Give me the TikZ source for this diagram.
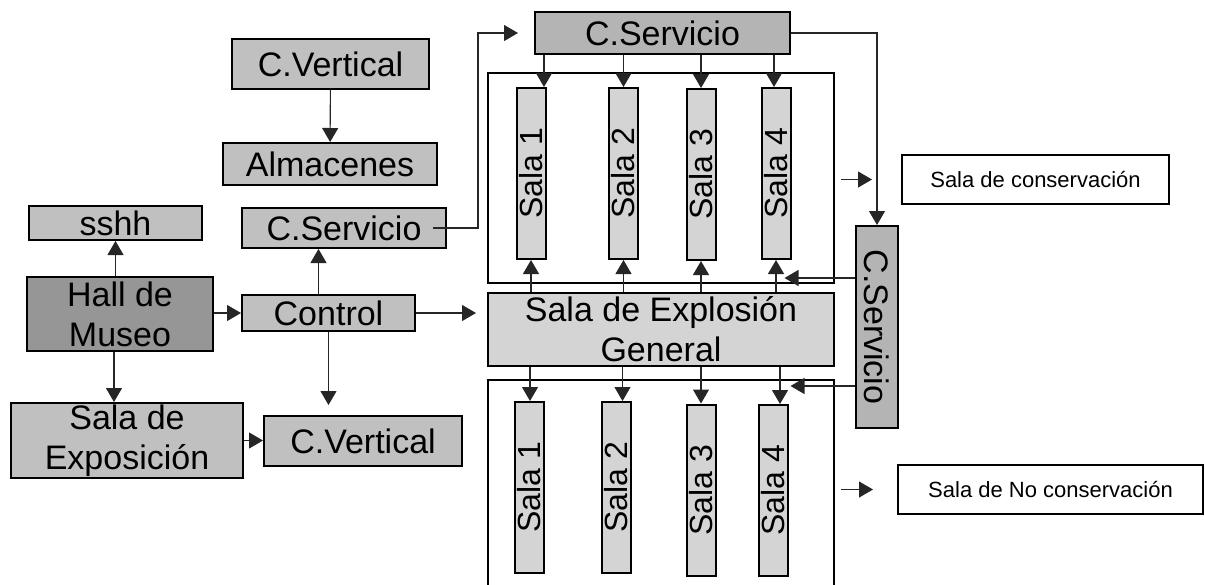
\documentclass[tikz,border=0pt]{standalone}
\usepackage{fontspec}
\setmainfont{Liberation Sans}
\usetikzlibrary{arrows.meta}
\definecolor{halldk}{RGB}{150,150,150}
\definecolor{boxgr}{RGB}{192,192,192}
\definecolor{servgr}{RGB}{180,180,180}
\definecolor{salalt}{RGB}{212,212,212}
\newcommand{\bigtxt}{\fontsize{34}{40}\selectfont}
\newcommand{\salatxt}{\fontsize{32}{36}\selectfont}
\newcommand{\smalltxt}{\fontsize{22}{26}\selectfont}

\begin{document}
\begin{tikzpicture}[
  x=1pt, y=-1pt,
  box/.style={draw, line width=2pt, inner sep=0pt, align=center, font=\bigtxt, fill=boxgr},
  sala/.style={draw, line width=2pt, inner sep=0pt, fill=salalt, font=\salatxt,
    minimum width=29pt, minimum height=171pt},
  cont/.style={draw, line width=2pt, inner sep=0pt, minimum width=346pt},
  note/.style={draw, line width=2pt, fill=white, inner sep=0pt, font=\smalltxt},
  arr/.style={-{Triangle[length=14pt,width=16pt]}, line width=1.1pt, draw=black!85},
]
\clip (0,0) rectangle (1205,584);

% left side
\node[box, minimum width=197pt, minimum height=50pt] (vtop) at (330.5,64) {C.Vertical};
\node[box, minimum width=214pt, minimum height=42pt] (alm) at (330,164) {Almacenes};
\node[box, minimum width=204pt, minimum height=40pt] (serv1) at (344,228) {C.Servicio};
\node[box, minimum width=173pt, minimum height=34pt] (sshh) at (115.5,223) {sshh};
\node[box, fill=halldk, minimum width=186pt, minimum height=74pt] (hall) at (120,314)
  {Hall de\\Museo};
\node[box, minimum width=173pt, minimum height=36pt] (ctrl) at (328.5,313) {Control};
\node[box, minimum width=232pt, minimum height=75pt] (expo) at (127,440.5)
  {Sala de\\Exposición};
\node[box, minimum width=198pt, minimum height=50pt] (vbot) at (363,441) {C.Vertical};

% service and halls
\node[box, fill=servgr, minimum width=255pt, minimum height=42pt] (servT) at (662.5,33) {C.Servicio};
\node[cont, minimum height=210pt] (cu) at (661,178) {};
\node[cont, minimum height=220pt] (cl) at (661,490) {};
\node[box, fill=salalt, minimum width=346pt, minimum height=73pt] (expl) at (661,329.5)
  {Sala de Explosión\\General};
\node[box, fill=servgr, minimum width=42pt, minimum height=202pt] (servV) at (877,327)
  {\rotatebox{-90}{C.Servicio}};

\foreach \i/\x/\y in {1/531/176, 2/623.5/176, 3/701/177, 4/776/176}
  \node[sala, minimum height=171pt] (su\i) at (\x,\y-2.5) {\makebox[0pt]{\rotatebox{90}{Sala \i}}};
\foreach \i/\x/\y in {1/529/487.5, 2/616.5/487.5, 3/701/490, 4/773/490.5}
  \node[sala] (sl\i) at (\x,\y) {\makebox[0pt]{\rotatebox{90}{Sala \i}}};

\node[note, minimum width=267pt, minimum height=49pt] (consv) at (1035.5,179.5)
  {Sala de conservación};
\node[note, minimum width=305pt, minimum height=49pt] (ncons) at (1050.5,489.5)
  {Sala de No conservación};

% connectors
\draw[arr] (vtop) -- (alm);
\draw[arr] (sshh.south |- hall.north) -- (sshh.south);
\draw[arr] (hall.east |- ctrl.west) -- (ctrl.west);
\draw[arr] ([xshift=-6pt]hall.south) -- ([xshift=-6pt]hall.south |- expo.north);
\draw[arr] (expo.east) -- (expo.east -| vbot.west);
\draw[arr] ([xshift=-10pt]ctrl.north) -- ([xshift=-10pt]ctrl.north |- serv1.south);
\draw[arr] (ctrl.south) -- ([yshift=10pt]ctrl.south |- vbot.north);
\draw[arr] (ctrl.east) -- ([xshift=-11pt]expl.west |- ctrl.east);

\draw[arr] ([xshift=-14pt]serv1.east) -- ++(45,0) |- ([xshift=-16pt]servT.west);
\draw[arr] (servT.east) -| (servV.north);

\foreach \i/\dx in {1/13, 2/0, 3/0, 4/-2}
  \draw[arr] ([xshift=\dx pt]servT.south -| su\i.north) -- ([xshift=\dx pt]su\i.north);
\foreach \i in {1,...,4}
  \draw[arr] (expl.north -| su\i.south) -- (su\i.south);
\foreach \i/\dx in {1/1, 2/6, 3/0, 4/7}
  \draw[arr] ([xshift=\dx pt]expl.south -| sl\i.north) -- ([xshift=\dx pt]sl\i.north);

\coordinate (k4) at ([xshift=-7pt,yshift=-18pt]su4.south east);
\coordinate (k5) at ([xshift=2pt,yshift=18pt]sl4.north east);
\draw[arr] (servV.west |- k4) -- (k4);
\draw[arr] (servV.west |- k5) -- (k5);

\draw[arr] ([xshift=-60pt]consv.west) -- ([xshift=-29pt]consv.west);
\draw[arr] ([xshift=-56pt]ncons.west) -- ([xshift=-24pt]ncons.west);
\end{tikzpicture}
\end{document}
